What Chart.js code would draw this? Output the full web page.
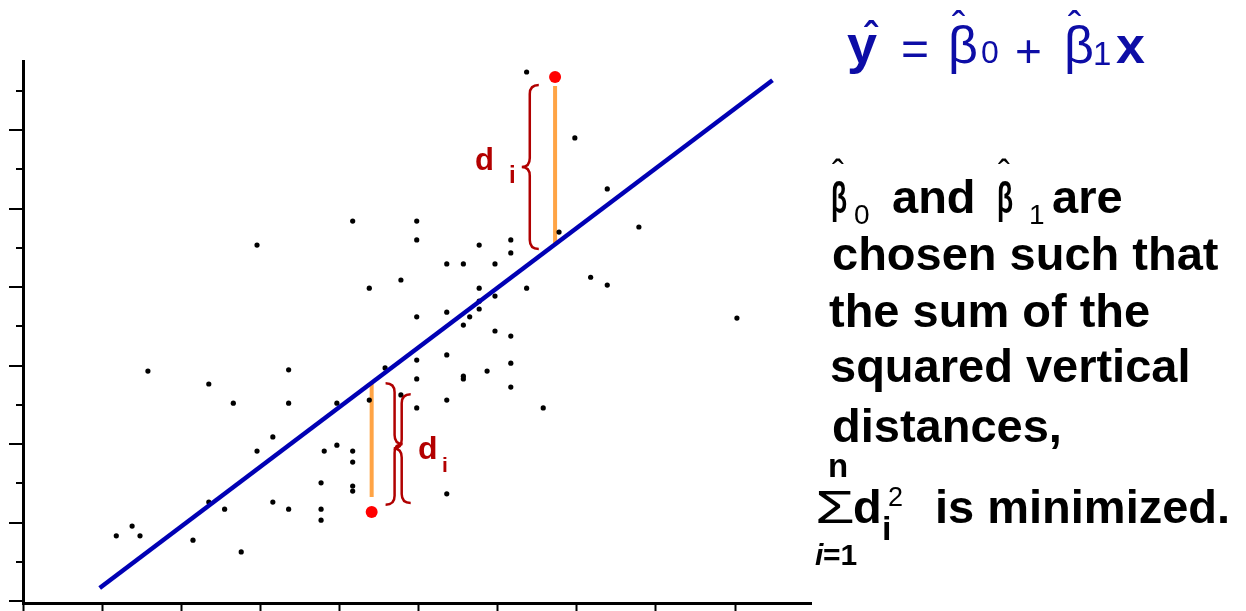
<!DOCTYPE html>
<html>
<head>
<meta charset="utf-8">
<script src="https://cdn.jsdelivr.net/npm/chart.js@4.4.0/dist/chart.umd.min.js"></script>
<style>
  body { margin: 0; background: #fff; }
  #wrap { position: relative; width: 1246px; height: 611px; overflow: hidden; }
  #wrap span { position: absolute; white-space: pre; line-height: 1; font-family: "Liberation Sans", Arial, sans-serif; transform-origin: left bottom; }
  .k { color: #000; font-weight: bold; }
  .eq { color: #0d0da6; }
  .rd { color: #b30000; font-weight: bold; }
</style>
</head>
<body>
<div id="wrap"><canvas id="fitChart" width="1246" height="611"></canvas></div>
<script>
// observations
var sampleX = [1.18, 1.38, 1.48, 1.58, 2.15, 2.35, 2.35, 2.55, 2.66, 2.76,
               2.96, 2.96, 3.16, 3.16, 3.36, 3.36, 3.36, 3.77, 3.77, 3.77,
               3.81, 3.97, 3.97, 4.17, 4.17, 4.17, 4.17, 4.17, 4.38, 4.38,
               4.58, 4.78, 4.78, 4.98, 4.98, 4.98, 4.98, 4.98, 4.98, 5.36,
               5.36, 5.36, 5.36, 5.36, 5.57, 5.57, 5.57, 5.57, 5.65, 5.77,
               5.77, 5.77, 5.77, 5.87, 5.97, 5.97, 5.97, 6.17, 6.17, 6.17,
               6.17, 6.17, 6.37, 6.37, 6.58, 6.78, 6.98, 7.18, 7.39, 7.39,
               7.79, 9.03];
var sampleY = [1.66, 1.91, 1.66, 5.86, 1.55, 5.53, 2.52, 2.34, 5.04, 1.25,
               9.07, 3.82, 4.18, 2.52, 5.89, 5.04, 2.34, 3.01, 2.34, 2.06,
               3.82, 5.04, 3.97, 9.68, 3.82, 3.54, 2.93, 2.80, 7.97, 5.12,
               5.94, 8.18, 5.25, 9.68, 9.20, 7.24, 6.14, 5.66, 4.92, 8.59,
               7.36, 6.27, 5.12, 2.73, 8.59, 7.03, 5.73, 5.66, 7.24, 9.07,
               7.97, 7.64, 7.44, 5.86, 8.59, 7.77, 6.88, 9.20, 8.87, 6.75,
               6.06, 5.45, 13.48, 7.97, 4.92, 9.40, 11.80, 8.25, 10.50, 8.05,
               9.53, 7.21];

// least squares line, end to end
var fitX = [0.97, 9.48];
var fitY = [0.33, 13.27];

// the two highlighted observations and their vertical gaps to the line
var markX = [6.73, 4.41];
var markY = [13.35, 2.27];
var gapFrom = [9.12, 5.55];
var gapTo = [13.12, 2.65];

// braces: [x, top, bottom]
var braceHigh = [6.41, 13.15, 8.97];
var braceLowA = [4.70, 5.55, 2.45];
var braceLowB = [4.79, 5.27, 2.50];

function pts(xs, ys) {
    return xs.map(function(x, i) { return {x: x, y: ys[i]}; });
}

var gapSets = markX.map(function(x, i) {
    return {
        type: 'line',
        data: [{x: x, y: gapFrom[i]}, {x: x, y: gapTo[i]}],
        borderColor: '#ffa445',
        borderWidth: 4,
        pointRadius: 0,
        order: 3
    };
});

function brace(ctx, x, y1, y2, dir) {
    // dir 1 opens to the right like "{", -1 like "}"
    var tip = x + dir * 9, point = x - dir * 8, ym = (y1 + y2) / 2, r = 9;
    ctx.beginPath();
    ctx.moveTo(tip, y1);
    ctx.quadraticCurveTo(x, y1, x, y1 + r);
    ctx.lineTo(x, ym - r);
    ctx.quadraticCurveTo(x, ym, point, ym);
    ctx.quadraticCurveTo(x, ym, x, ym + r);
    ctx.lineTo(x, y2 - r);
    ctx.quadraticCurveTo(x, y2, tip, y2);
    ctx.stroke();
}

var axisMarks = {
    id: 'axisMarks',
    afterDatasetsDraw: function(chart) {
        var ctx = chart.ctx, xs = chart.scales.x, ys = chart.scales.y;
        var area = chart.chartArea;
        ctx.save();
        ctx.strokeStyle = '#000';
        ctx.lineWidth = 2;
        xs.ticks.forEach(function(t) {
            var px = Math.round(xs.getPixelForValue(t.value)) + 0.5;
            ctx.beginPath();
            ctx.moveTo(px, area.bottom);
            ctx.lineTo(px, area.bottom + 9);
            ctx.stroke();
        });
        ys.ticks.forEach(function(t) {
            var py = Math.round(ys.getPixelForValue(t.value));
            var len = t.value % 2 === 0 ? 14 : 7;
            ctx.beginPath();
            ctx.moveTo(area.left - len, py);
            ctx.lineTo(area.left, py);
            ctx.stroke();
        });
        ctx.strokeStyle = '#b00000';
        ctx.lineWidth = 2.5;
        brace(ctx, xs.getPixelForValue(braceHigh[0]), ys.getPixelForValue(braceHigh[1]), ys.getPixelForValue(braceHigh[2]), 1);
        brace(ctx, xs.getPixelForValue(braceLowA[0]), ys.getPixelForValue(braceLowA[1]), ys.getPixelForValue(braceLowA[2]), -1);
        brace(ctx, xs.getPixelForValue(braceLowB[0]), ys.getPixelForValue(braceLowB[1]), ys.getPixelForValue(braceLowB[2]), 1);
        ctx.restore();
    }
};

var ctx = document.getElementById('fitChart').getContext('2d');
var fitChart = new Chart(ctx, {
    type: 'scatter',
    data: {
        datasets: [
            {
                data: pts(markX, markY),
                backgroundColor: '#ff0000',
                borderWidth: 0,
                pointRadius: 6,
                order: 0
            },
            {
                type: 'line',
                data: pts(fitX, fitY),
                borderColor: '#0000b4',
                borderWidth: 4.5,
                pointRadius: 0,
                order: 1
            },
            {
                data: pts(sampleX, sampleY),
                backgroundColor: '#000',
                borderWidth: 0,
                pointRadius: 2.6,
                order: 2
            }
        ].concat(gapSets)
    },
    options: {
        responsive: false,
        animation: false,
        events: [],
        layout: { padding: { left: 23, top: 61, right: 435, bottom: 8 } },
        plugins: { legend: { display: false }, tooltip: { enabled: false } },
        scales: {
            x: {
                type: 'linear',
                min: 0,
                max: 9.967,
                ticks: { display: false, stepSize: 1, includeBounds: false },
                grid: { display: false, drawTicks: false },
                border: { display: true, color: '#000', width: 3 },
                afterFit: function(s) { s.height = 0; }
            },
            y: {
                type: 'linear',
                min: -0.051,
                max: 13.76,
                ticks: { display: false, stepSize: 1, includeBounds: false },
                grid: { display: false, drawTicks: false },
                border: { display: true, color: '#000', width: 3 },
                afterFit: function(s) { s.width = 0; }
            }
        }
    },
    plugins: [axisMarks]
});

var wrap = document.getElementById('wrap');
function put(text, x, base, size, cls, extra) {
    var s = document.createElement('span');
    s.textContent = text;
    s.className = cls;
    s.style.left = x + 'px';
    s.style.top = (base - 0.8465 * size) + 'px';
    s.style.fontSize = size + 'px';
    if (extra) {
        for (var k in extra) s.style[k] = extra[k];
    }
    wrap.appendChild(s);
}

// fitted equation
put('y', 847, 63, 54, 'eq', {fontWeight: 'bold'});
put('\u02C6', 864, 51, 40, 'eq', {fontWeight: 'bold'});
put('=', 901, 66, 48, 'eq');
put('\u03B2', 948, 63, 52, 'eq');
put('\u02C6', 952, 40, 40, 'eq');
put('0', 981, 63, 32, 'eq');
put('+', 1015, 67, 46, 'eq');
put('\u03B2', 1064, 63, 52, 'eq');
put('\u02C6', 1068, 40, 40, 'eq');
put('1', 1093, 65, 33, 'eq');
put('x', 1116, 63, 52, 'eq', {fontWeight: 'bold'});

// explanation
put('\u03B2', 831, 213, 44, 'k', {transform: 'scaleX(0.6)'});
put('\u02C6', 832, 186, 36, 'k', {fontWeight: 'normal'});
put('0', 854, 225, 28, 'k', {fontWeight: 'normal'});
put('and', 892, 213, 47, 'k');
put('\u03B2', 997, 213, 44, 'k', {transform: 'scaleX(0.6)'});
put('\u02C6', 998, 186, 36, 'k', {fontWeight: 'normal'});
put('1', 1029, 225, 28, 'k', {fontWeight: 'normal'});
put('are', 1052, 213, 47, 'k');
put('chosen such that', 832, 270, 47, 'k');
put('the sum of the', 829, 327, 47, 'k');
put('squared vertical', 830, 382, 47, 'k');
put('distances,', 832, 442, 47, 'k');
put('n', 828, 477, 33, 'k');
put('\u03A3', 815, 523, 46, 'k', {fontWeight: 'normal', transform: 'scaleX(1.4)'});
put('d', 853, 523, 47, 'k');
put('i', 882, 540, 34, 'k');
put('2', 888, 507, 27, 'k', {fontWeight: 'normal'});
put('is minimized.', 935, 523, 47, 'k');
put('i', 815, 565, 30, 'k', {fontStyle: 'italic'});
put('=1', 823, 565, 30, 'k');

// gap labels
put('d', 475, 170, 31, 'rd');
put('i', 509, 183, 24, 'rd');
put('d', 418, 459, 32, 'rd');
put('i', 442, 472, 21, 'rd');
</script>
</body>
</html>
